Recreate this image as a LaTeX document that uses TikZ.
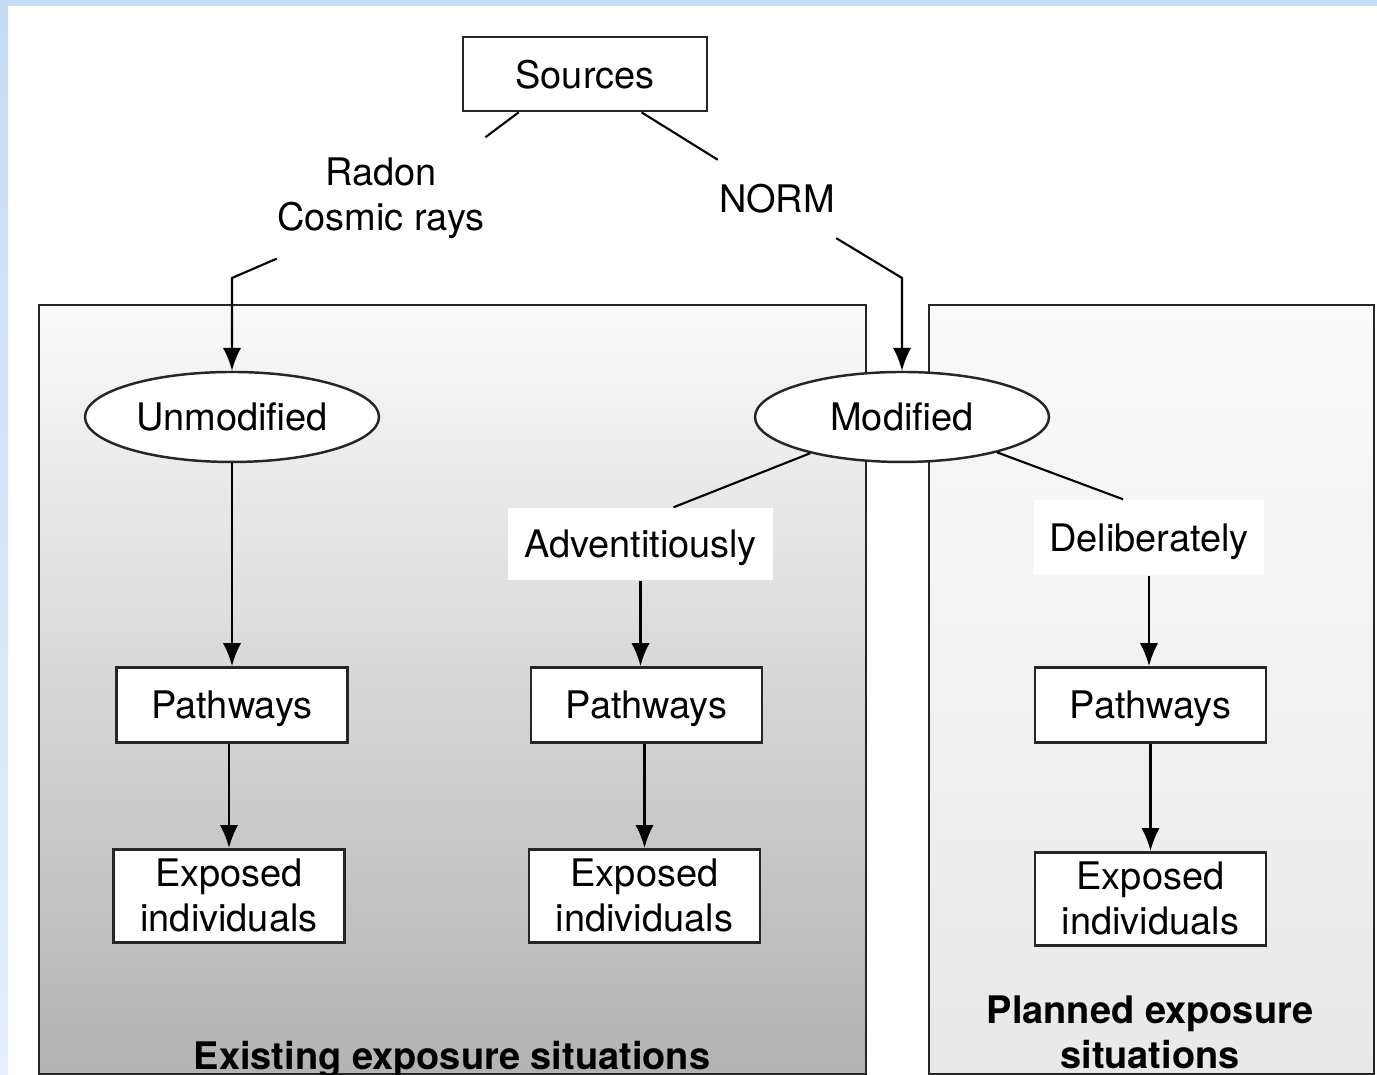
\documentclass[tikz,border=0pt]{standalone}
\usepackage{fontspec}
\setmainfont{TeX Gyre Heros}
\usetikzlibrary{shapes,arrows.meta,positioning}
\newcommand{\diagfont}{\fontsize{10.8}{12.8}\selectfont}
\definecolor{frameblue}{HTML}{C4DCF6}
\definecolor{frameblue2}{HTML}{E6EFFA}

\begin{document}
\begin{tikzpicture}[
  box/.style={rectangle, draw=black!85, line width=0.8pt, fill=white, minimum width=2.31cm, minimum height=0.75cm, inner sep=0pt, align=center, font=\diagfont},
  pbox/.style={box, text depth=0pt},
  ebox/.style={box, minimum height=0.93cm},
  oval/.style={ellipse, draw=black!85, line width=0.7pt, fill=white, minimum width=2.94cm, minimum height=0.90cm, inner sep=0pt, text depth=0pt, font=\diagfont},
  tag/.style={rectangle, fill=white, inner sep=0pt, text depth=0pt, align=center, font=\diagfont},
  lbl/.style={rectangle, inner sep=0pt, align=center, font=\diagfont},
  region/.style={draw=black!85, line width=0.8pt},
  title/.style={inner sep=0pt, align=center, font=\diagfont\bfseries},
  arrow/.style={-{Latex[length=6.5pt,width=5.2pt]}, line width=0.6pt},
  line/.style={line width=0.6pt}
]
  \useasboundingbox (0,0) rectangle (13.77,10.75);
  \fill[white] (0,0) rectangle (13.77,10.75);
  \fill[frameblue] (0,10.69) rectangle (13.77,10.75);
  \shade[top color=frameblue, bottom color=frameblue2] (0,0) rectangle (0.08,10.69);
  \draw[region, top color=black!2, bottom color=black!30] (0.39,0.01) rectangle (8.66,7.70);
  \draw[region, top color=black!2, bottom color=black!9] (9.29,0.01) rectangle (13.74,7.70);

  \node[pbox, minimum width=2.44cm, minimum height=0.74cm] (src) at (5.85,10.01) {Sources};
  \node[lbl, minimum width=2.07cm, minimum height=1.20cm] (radon) at (3.81,8.77) {Radon\\Cosmic rays};
  \node[lbl, minimum width=1.17cm, minimum height=0.77cm] (norm) at (7.77,8.76) {NORM};
  \coordinate (lbend) at (2.32,7.97);
  \coordinate (rbend) at (9.02,7.97);
  \node[oval] (unmod) at (2.32,6.58) {Unmodified};
  \node[oval] (mod) at (9.02,6.58) {Modified};
  \node[tag, minimum width=2.65cm, minimum height=0.72cm] (advent) at (6.405,5.31) {Adventitiously};
  \node[tag, minimum width=2.30cm, minimum height=0.75cm] (delib) at (11.49,5.375) {Deliberately};
  \node[pbox] (p1) at (2.32,3.70) {Pathways};
  \node[pbox] (p2) at (6.465,3.70) {Pathways};
  \node[pbox] (p3) at (11.505,3.70) {Pathways};
  \node[ebox, below=1.04cm of p1, xshift=-0.03cm] (e1) {Exposed\\individuals};
  \node[ebox, below=1.04cm of p2, xshift=-0.02cm] (e2) {Exposed\\individuals};
  \node[ebox, below=1.07cm of p3] (e3) {Exposed\\individuals};
  \node[title, anchor=base] (existing) at (4.52,0.05) {Existing exposure situations};
  \node[title, anchor=north] (planned) at (11.50,0.80) {Planned exposure\\situations};

  \draw[line] ([xshift=0.57cm]src.south west) -- (radon.north east);
  \draw[arrow] (radon.south west) -- (lbend) -- (unmod);
  \draw[line] ([xshift=1.80cm]src.south west) -- (norm.north west);
  \draw[arrow] (norm.south east) -- (rbend) -- (mod);
  \draw[line] (mod) -- ([xshift=0.33cm]advent.north);
  \draw[line] (mod) -- ([xshift=-0.26cm]delib.north);
  \draw[arrow] (unmod) -- (p1);
  \draw[arrow] (advent.south) -- (advent.south |- p2.north);
  \draw[arrow] (delib.south) -- (delib.south |- p3.north);
  \draw[arrow] (p1.south -| e1.north) -- (e1.north);
  \draw[arrow] (p2.south -| e2.north) -- (e2.north);
  \draw[arrow] (p3) -- (e3);
\end{tikzpicture}
\end{document}
